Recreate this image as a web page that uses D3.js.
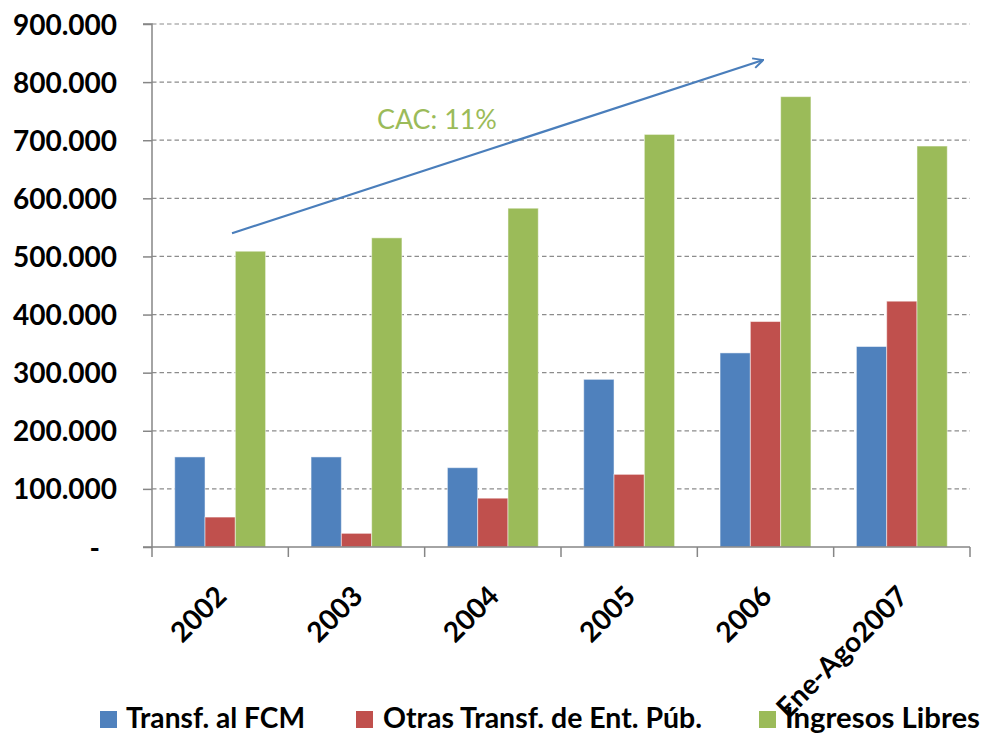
<!DOCTYPE html>
<html>
<head>
<meta charset="utf-8">
<script src="https://cdn.jsdelivr.net/npm/d3@7"></script>
<style>
  html, body { margin: 0; padding: 0; background: #fff; }
  svg { display: block; }
  text { font-family: Lato, "Open Sans", sans-serif; }
</style>
</head>
<body>
<svg id="chart" width="985" height="734"></svg>
<script>
// ---- data ----
const categories = ["2002", "2003", "2004", "2005", "2006", "Ene-Ago2007"];
const seriesNames = ["Transf. al FCM", "Otras Transf. de Ent. Púb.", "Ingresos Libres"];
const transfFCM   = [155000, 155000, 136500, 288500, 334000, 345000];
const otrasTransf = [51500, 23500, 84000, 125000, 388000, 423000];
const ingresosLibres = [509000, 532000, 583000, 710000, 775000, 690000];
const yTicks = [0, 100000, 200000, 300000, 400000, 500000, 600000, 700000, 800000, 900000];
const seriesColors = ["#4F81BD", "#C0504D", "#9BBB59"];
const annotationText = "CAC: 11%";
// arrow in data units: [category position (in bands), value]
const arrowStart = [0.587, 540000];
const arrowEnd   = [4.483, 838000];
const annotationPos = [1.65, 720000];

const values = [transfFCM, otrasTransf, ingresosLibres];

const svg = d3.select("#chart");
const mLeft = 152, mRight = 970, mTop = 24, mBottom = 547;

const x = d3.scaleBand().domain(categories).range([mLeft, mRight]).paddingInner(0).paddingOuter(0);
const xs = d3.scaleBand().domain(seriesNames).range([0, x.bandwidth()]).paddingInner(0).paddingOuter(0.75);
const xPos = d3.scaleLinear().domain([0, categories.length]).range([mLeft, mRight]);
const y = d3.scaleLinear().domain([0, 900000]).range([mBottom, mTop]);

const loc = d3.formatLocale({ thousands: ".", decimal: ",", grouping: [3], currency: ["", ""] });
const fmt = loc.format(",d");

// gridlines
svg.append("g").selectAll("line").data(yTicks.filter(d => d > 0)).join("line")
  .attr("x1", mLeft).attr("x2", mRight)
  .attr("y1", d => y(d)).attr("y2", d => y(d))
  .attr("stroke", "#8c8c8c").attr("stroke-width", 1.2)
  .attr("stroke-dasharray", "4.5,3");

// bars
const groups = svg.append("g").selectAll("g").data(categories).join("g")
  .attr("transform", d => `translate(${x(d)},0)`);
groups.selectAll("rect").data((c, i) => seriesNames.map((s, k) => ({ s, k, v: values[k][i] })))
  .join("rect")
  .attr("x", d => xs(d.s))
  .attr("width", xs.bandwidth())
  .attr("y", d => y(d.v))
  .attr("height", d => y(0) - y(d.v))
  .attr("fill", d => seriesColors[d.k])
  .attr("stroke", "rgba(255,255,255,0.5)")
  .attr("stroke-width", 1);

// y axis
const yAxis = d3.axisLeft(y).tickValues(yTicks).tickSize(9).tickPadding(26)
  .tickFormat(d => d === 0 ? "-" : fmt(d));
const gy = svg.append("g").attr("transform", `translate(${mLeft},0)`).call(yAxis);
gy.select(".domain").attr("stroke", "#868686").attr("stroke-width", 1.5).attr("d", `M-9,${mTop}H0V${mBottom}`);
gy.selectAll(".tick line").attr("stroke", "#868686").attr("stroke-width", 1.5);
gy.selectAll(".tick text")
  .attr("font-size", 28).attr("font-weight", "bold").attr("fill", "#000")
  .attr("dy", "0.36em")
  .attr("x", d => d === 0 ? -52 : -35);

// x axis
const gx = svg.append("g").attr("transform", `translate(0,${mBottom})`);
gx.append("line").attr("x1", mLeft - 9).attr("x2", mRight).attr("y1", 0).attr("y2", 0)
  .attr("stroke", "#868686").attr("stroke-width", 1.5);
gx.selectAll("line.tk").data(d3.range(categories.length + 1)).join("line").attr("class", "tk")
  .attr("x1", d => xPos(d)).attr("x2", d => xPos(d)).attr("y1", 0).attr("y2", 10)
  .attr("stroke", "#868686").attr("stroke-width", 1.5);
gx.selectAll("text").data(categories).join("text")
  .attr("transform", d => `translate(${x(d) + x.bandwidth() / 2 + 8},51) rotate(-45)`)
  .attr("text-anchor", "end")
  .attr("font-size", 28).attr("font-weight", "bold").attr("fill", "#000")
  .text(d => d);

// arrow annotation
const defs = svg.append("defs");
defs.append("marker").attr("id", "arr").attr("viewBox", "0 0 12 12")
  .attr("refX", 11).attr("refY", 6).attr("markerWidth", 12).attr("markerHeight", 12)
  .attr("markerUnits", "userSpaceOnUse").attr("orient", "auto")
  .append("path").attr("d", "M1,1 L11,6 L1,11").attr("fill", "none")
  .attr("stroke", "#4A7EBB").attr("stroke-width", 2);
svg.append("line")
  .attr("x1", xPos(arrowStart[0])).attr("y1", y(arrowStart[1]))
  .attr("x2", xPos(arrowEnd[0])).attr("y2", y(arrowEnd[1]))
  .attr("stroke", "#4A7EBB").attr("stroke-width", 2.2)
  .attr("marker-end", "url(#arr)");
svg.append("text")
  .attr("x", xPos(annotationPos[0])).attr("y", y(annotationPos[1]))
  .attr("font-size", 27).attr("fill", "#9BBB59")
  .attr("textLength", 120).attr("lengthAdjust", "spacingAndGlyphs")
  .text(annotationText);

// legend
const legendX = [100, 356, 759];
const legendW = [179, 319, 195];
const lg = svg.append("g").selectAll("g").data(seriesNames).join("g")
  .attr("transform", (d, i) => `translate(${legendX[i]},711)`);
lg.append("rect").attr("width", 17).attr("height", 17).attr("fill", (d, i) => seriesColors[i]);
lg.append("text").attr("x", (d, i) => i === 0 ? 26 : (i === 1 ? 27 : 26)).attr("y", 16.7)
  .attr("font-size", 28).attr("font-weight", "bold").attr("fill", "#000")
  .attr("textLength", (d, i) => legendW[i]).attr("lengthAdjust", "spacingAndGlyphs")
  .text(d => d);
</script>
</body>
</html>
